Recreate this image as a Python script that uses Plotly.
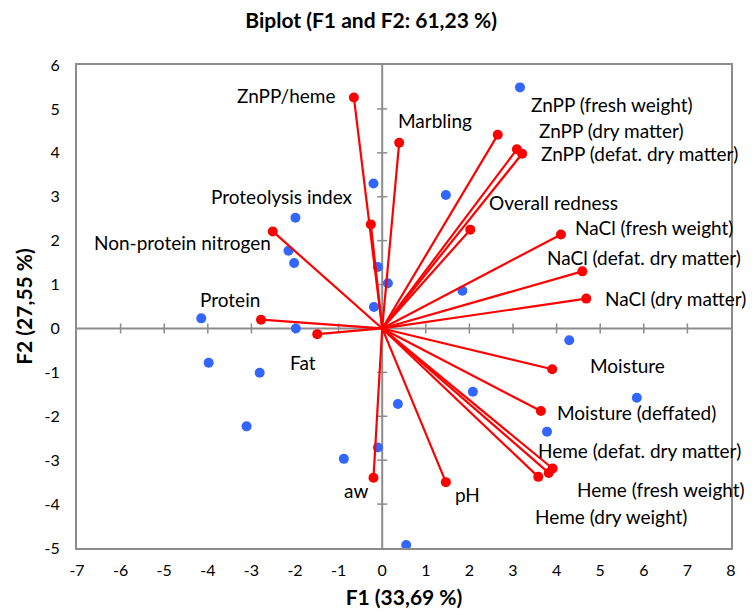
import plotly.graph_objects as go

# Variables (red vectors)
var_names = ["ZnPP/heme", "Marbling", "ZnPP (fresh weight)", "ZnPP (dry matter)",
             "ZnPP (defat. dry matter)", "Overall redness", "NaCl (fresh weight)",
             "NaCl (defat. dry matter)", "NaCl (dry matter)", "Proteolysis index",
             "Non-protein nitrogen", "Protein", "Fat", "aw", "Moisture",
             "Moisture (deffated)", "Heme (defat. dry matter)", "Heme (fresh weight)",
             "Heme (dry weight)", "pH"]
var_f1 = [-0.65, 0.39, 2.65, 3.09, 3.21, 2.02, 4.10, 4.59, 4.68, -0.26,
          -2.51, -2.78, -1.49, -0.20, 3.90, 3.64, 3.91, 3.82, 3.58, 1.46]
var_f2 = [5.26, 4.23, 4.41, 4.08, 3.98, 2.25, 2.14, 1.30, 0.68, 2.37,
          2.21, 0.20, -0.13, -3.40, -0.93, -1.88, -3.19, -3.29, -3.38, -3.50]

# Observations (blue points)
obs_f1 = [-0.20, -1.99, -2.15, -2.02, -0.10, -0.19, -4.15, -1.98, 3.16, 1.46,
          0.13, 1.84, 4.29, -3.98, -2.81, -3.11, -0.88, -0.10, 2.08, 0.36,
          5.84, 3.78, 0.55]
obs_f2 = [3.30, 2.52, 1.77, 1.49, 1.40, 0.49, 0.23, 0.00, 5.49, 3.04,
          1.03, 0.86, -0.27, -0.78, -1.01, -2.23, -2.97, -2.71, -1.44, -1.72,
          -1.58, -2.35, -4.93]

x_ticks = list(range(-7, 9))
y_ticks = list(range(-5, 7))
x_ticktext = [str(v) for v in x_ticks]
y_ticktext = [str(v) for v in y_ticks]

# label placement (layout): anchor position in data units and horizontal anchor
label_pos = {
    "ZnPP/heme": (-1.04, 5.30, "right"),
    "Marbling": (0.32, 4.73, "left"),
    "ZnPP (fresh weight)": (3.37, 5.11, "left"),
    "ZnPP (dry matter)": (3.55, 4.51, "left"),
    "ZnPP (defat. dry matter)": (3.59, 3.98, "left"),
    "Overall redness": (2.40, 2.87, "left"),
    "NaCl (fresh weight)": (4.37, 2.30, "left"),
    "NaCl (defat. dry matter)": (3.74, 1.61, "left"),
    "NaCl (dry matter)": (5.06, 0.68, "left"),
    "Proteolysis index": (-0.62, 3.00, "right"),
    "Non-protein nitrogen": (-2.51, 1.95, "right"),
    "Protein": (-2.75, 0.67, "right"),
    "Fat": (-2.16, -0.78, "left"),
    "aw": (-0.28, -3.70, "right"),
    "Moisture": (4.73, -0.85, "left"),
    "Moisture (deffated)": (3.97, -1.92, "left"),
    "Heme (defat. dry matter)": (3.53, -2.79, "left"),
    "Heme (fresh weight)": (4.43, -3.66, "left"),
    "Heme (dry weight)": (3.47, -4.29, "left"),
    "pH": (1.63, -3.78, "left"),
}

FONT = "Lato, Open Sans, sans-serif"
GRAY = "#8c8c8c"

fig = go.Figure()

lx, ly = [], []
for a, b in zip(var_f1, var_f2):
    lx += [0, a, None]
    ly += [0, b, None]

fig.add_trace(go.Scatter(x=obs_f1, y=obs_f2, mode="markers",
                         marker=dict(color="#3366ff", size=10), hoverinfo="skip"))
fig.add_trace(go.Scatter(x=lx, y=ly, mode="lines",
                         line=dict(color="#ff0000", width=2.2), hoverinfo="skip"))
fig.add_trace(go.Scatter(x=var_f1, y=var_f2, mode="markers", text=var_names,
                         marker=dict(color="#ff0000", size=10)))

shapes = [
    dict(type="line", xref="x", yref="y", x0=-7, x1=8, y0=0, y1=0,
         line=dict(color=GRAY, width=2), layer="below"),
    dict(type="line", xref="x", yref="y", x0=0, x1=0, y0=-5, y1=6,
         line=dict(color=GRAY, width=2), layer="below"),
]
for t in x_ticks[1:-1]:
    shapes.append(dict(type="line", xref="x", yref="y", ysizemode="pixel", yanchor=0,
                       x0=t, x1=t, y0=-5, y1=5, line=dict(color=GRAY, width=1.5), layer="below"))
for t in y_ticks[1:-1]:
    shapes.append(dict(type="line", xref="x", yref="y", xsizemode="pixel", xanchor=0,
                       y0=t, y1=t, x0=-5, x1=5, line=dict(color=GRAY, width=1.5), layer="below"))

annotations = []
for name in var_names:
    px, py, anc = label_pos[name]
    annotations.append(dict(x=px, y=py, xref="x", yref="y", text=name, showarrow=False,
                            xanchor=anc, yanchor="middle",
                            font=dict(family=FONT, size=19, color="#000000")))

fig.update_layout(
    width=755, height=615,
    margin=dict(l=69, r=32, t=57, b=75),
    paper_bgcolor="white", plot_bgcolor="white",
    showlegend=False,
    title=dict(text="<b>Biplot (F1 and F2: 61,23 %)</b>", x=0.481, xanchor="center",
               y=0.980, yanchor="middle", font=dict(family=FONT, size=21, color="#000000")),
    xaxis=dict(range=[-7, 8], tickvals=x_ticks, ticktext=x_ticktext, showgrid=False,
               zeroline=False, showline=True, mirror=True, linecolor=GRAY, linewidth=2,
               ticks="", ticklabelstandoff=7,
               tickfont=dict(family=FONT, size=16, color="#000000"),
               title=dict(text="<b>F1 (33,69 %)</b>", standoff=12,
                          font=dict(family=FONT, size=21, color="#000000"))),
    yaxis=dict(range=[-5, 6], tickvals=y_ticks, ticktext=y_ticktext, showgrid=False,
               zeroline=False, showline=True, mirror=True, linecolor=GRAY, linewidth=2,
               ticks="", ticklabelstandoff=12,
               tickfont=dict(family=FONT, size=16, color="#000000"),
               title=dict(text="<b>F2 (27,55 %)</b>", standoff=6,
                          font=dict(family=FONT, size=21, color="#000000"))),
    shapes=shapes,
    annotations=annotations,
)

fig.write_html("out.html")
